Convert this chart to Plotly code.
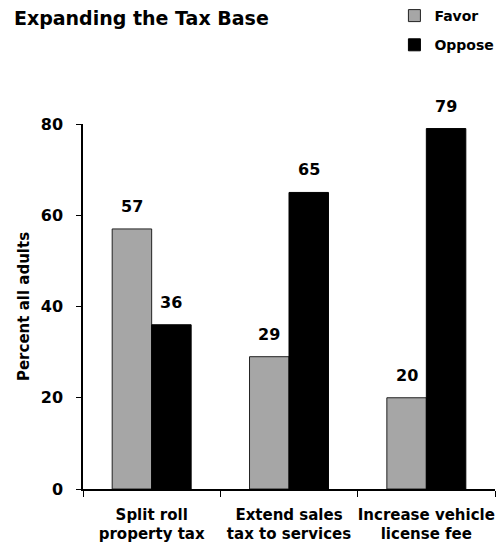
import plotly.graph_objects as go

categories = ["Split roll<br>property tax", "Extend sales<br>tax to services", "Increase vehicle<br>license fee"]
favor = [57, 29, 20]
oppose = [36, 65, 79]
y_ticks = [0, 20, 40, 60, 80]

FONT = "DejaVu Sans"
BARGAP = 0.425
half = (1 - BARGAP) / 4  # center offset of each bar within its group

fig = go.Figure()
fig.add_trace(go.Bar(name="<b>Favor</b>", x=categories, y=favor,
                     marker=dict(color="#a6a6a6", line=dict(color="#222222", width=1)),
                     legendgroup="f"))
fig.add_trace(go.Bar(name="<b>Oppose</b>", x=categories, y=oppose,
                     marker=dict(color="#000000", line=dict(color="#000000", width=1)),
                     legendgroup="o"))

# value labels above each bar
for i, (f, o) in enumerate(zip(favor, oppose)):
    for xv, yv in ((i - half, f), (i + half, o)):
        fig.add_annotation(x=xv, y=yv, text=f"<b>{yv}</b>", showarrow=False,
                           xref="x", yref="y", yanchor="bottom", yshift=11,
                           font=dict(family=FONT, size=16, color="black"))

fig.update_layout(
    width=498, height=544,
    margin=dict(l=83, r=3, t=124, b=55, autoexpand=False),
    paper_bgcolor="white", plot_bgcolor="white",
    barmode="group", bargap=BARGAP, bargroupgap=0,
    title=dict(text="<b>Expanding the Tax Base</b>", x=0.028, xanchor="left",
               y=0.967, yanchor="middle",
               font=dict(family=FONT, size=19, color="black")),
    legend=dict(x=0.792, xref="container", xanchor="left",
                y=1.0, yanchor="top", yref="container",
                font=dict(family=FONT, size=14, color="black"),
                tracegroupgap=8, bgcolor="rgba(0,0,0,0)"),
    font=dict(family=FONT, color="black"),
    showlegend=True,
)
fig.update_xaxes(showline=True, linecolor="black", linewidth=1.5,
                 ticks="outside", tickson="boundaries", ticklen=6, tickcolor="black",
                 ticklabelstandoff=11, tickangle=0, automargin=False,
                 tickfont=dict(family=FONT, size=15, color="black"),
                 tickprefix="<b>", ticksuffix="</b>", showgrid=False)
fig.update_yaxes(range=[0, 80], tickvals=y_ticks,
                 ticktext=[f"<b>{v}</b>" for v in y_ticks],
                 showline=True, linecolor="black", linewidth=1.5,
                 ticks="outside", ticklen=5, tickcolor="black",
                 ticklabelstandoff=10, automargin=False,
                 tickfont=dict(family=FONT, size=16, color="black"),
                 showgrid=False, zeroline=False,
                 title=dict(text="<b>Percent all adults</b>", standoff=8,
                            font=dict(family=FONT, size=15, color="black")))

fig.write_html("out.html")
